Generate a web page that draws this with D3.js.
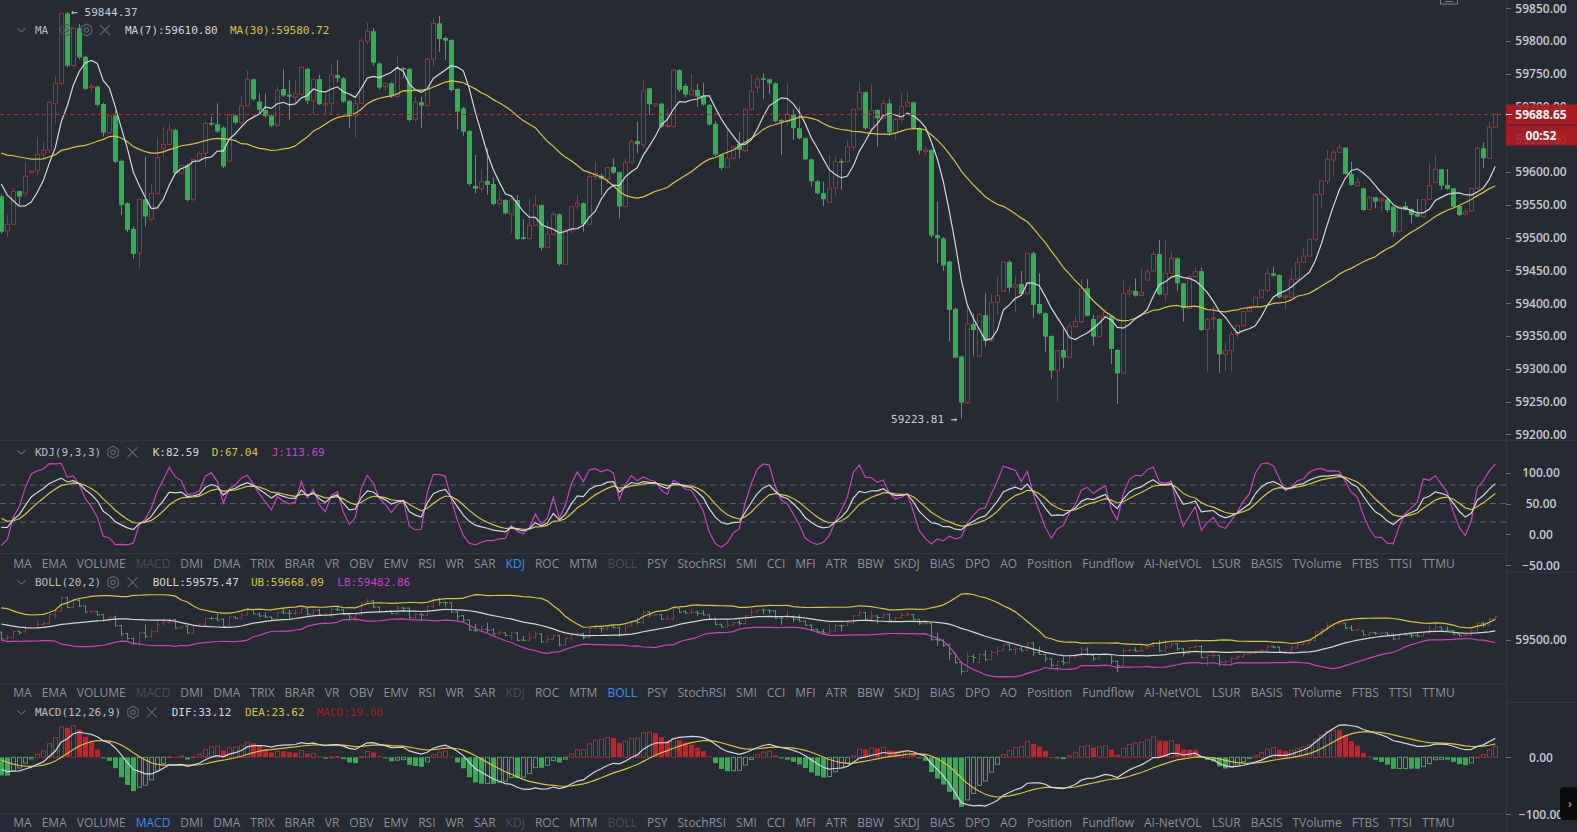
<!DOCTYPE html>
<html><head><meta charset="utf-8">
<script src="https://cdn.jsdelivr.net/npm/d3@7"></script>
<style>
html,body{margin:0;padding:0;background:#252a33;overflow:hidden}
svg{display:block}
</style></head><body>
<svg id="c" width="1577" height="832"></svg>
<script>
// ---------- DATA ----------
// closes before the first visible candle (off-screen, only used to warm up the indicators)
const prevCloses = [59610,59600,59620,59640,59650,59630,59620,59610,59640,59650,59700,59740,59720,59690,59650,59600,59570,59560,59590,59640,59680,59700,59686,59640,59630,59621.5,59590,59560,59523.5];

const opens = [59563,59510.3,59520.5,59571.3,59567.8,59599.3,59601.8,59627.3,59633.4,59705,
59735.6,59842,59762.6,59819.5,59776,59729,59730.5,59704,59660.3,59686.3,
59617,59552.5,59513.3,59476.2,59558.6,59528,59567.8,59636.4,59642.5,59664.4,
59598.3,59611,59558.6,59619.6,59628.8,59675,59673,59668,59617,59686.3,
59675.6,59701,59741.7,59707.6,59695,59686.3,59671,59726.9,59718.3,59714.2,
59718.8,59757.5,59709,59742.2,59702.5,59705,59748.3,59743.2,59708.6,59685.8,
59705,59800,59815,59766,59730.5,59735.6,59715.2,59758.9,59757.4,59680.6,
59706.6,59701.5,59772.2,59827.1,59804.7,59801.7,59726.9,59697.4,59662.8,59578.9,
59574.8,59586.5,59582,59552,59557.5,59535.7,59557.5,59500.6,59498.6,59518.9,
59549.9,59485.3,59505.2,59535.7,59459.4,59511.8,59548.4,59552.5,59520.4,59593.2,
59594.7,59589.6,59607.9,59599.8,59547.4,59615,59647.6,59642.5,59728,59702,
59704.5,59669.4,59669.4,59755.9,59731.5,59718.3,59725.4,59716.3,59702.5,59673.5,
59626.8,59607.4,59621.1,59643,59632.9,59695.9,59729.5,59743.2,59741.7,59735.6,
59679.6,59677.1,59688.8,59667,59651.7,59619.6,59586,59567.8,59554,59575.4,
59617,59616,59638,59695.9,59721.8,59667,59694.9,59682.2,59705,59660.3,
59680.6,59701,59706.6,59667,59631.3,59633.9,59504.2,59499,59463.5,59391.3,
59318.6,59248.4,59368.3,59319.5,59382,59342.9,59401.4,59418.7,59462.9,59424.3,
59429.3,59415.1,59476.1,59398.8,59384.6,59350,59297.1,59328.6,59317.4,59364.2,
59371.9,59422.7,59375.9,59349,59380.5,59381,59328.6,59293,59415.1,59418.7,
59412,59435.4,59449.2,59475.1,59413.6,59445.6,59468.5,59430.3,59392.2,59440.5,
59449.2,59360.2,59376,59376,59322,59327.6,59352.5,59365.8,59387.1,59394.8,
59409,59419.2,59445.6,59443.1,59409,59409,59436.5,59462.4,59472,59497.5,
59566.2,59586.5,59618.6,59630.3,59637.4,59597.2,59579.4,59575.3,59543.3,59561.6,
59556,59558.5,59547.4,59509.2,59548.4,59543.8,59536.2,59532.1,59558.5,59584.5,
59604.3,59580.4,59575.3,59548.4,59535.7,59540.7,59575.3,59636.4,59621.1,59668.4];

const highs = [59566,59534.7,59575.4,59572,59616,59603,59653.2,59646.6,59708.6,59745.8,
59843,59844.37,59822,59826,59778,59735,59732,59706,59687,59694,
59619,59554,59517,59559,59623.7,59582,59652.7,59669,59674.6,59666,
59612,59613,59620.5,59632,59677,59685,59705,59670,59690,59688,
59715,59755,59743,59720,59720,59688,59730.5,59757,59740.7,59740.7,
59761,59759,59742.5,59748.3,59720,59766,59771,59745,59710,59710,
59805,59828,59820,59768,59737,59737,59776.2,59760,59759,59715,
59715,59775,59833.7,59838.3,59806.8,59803,59728,59699,59664,59626.2,
59604.8,59636.4,59592,59571.8,59559,59561.6,59565.2,59528.5,59559,59565.2,
59551,59525.5,59539.7,59537,59513,59548,59565.2,59554,59598.2,59616,
59598,59608,59621.1,59601,59621.1,59650,59677,59740.6,59729,59705,
59706,59696,59757,59757,59735,59749.8,59735,59736.6,59704,59678,
59628,59667,59640,59661.8,59697,59748.8,59747.8,59750.9,59743,59737,
59681,59735.6,59696,59700,59653,59621,59588,59585.6,59625.2,59623.7,
59621,59649.1,59697,59737,59723,59734.6,59696,59711.2,59711.2,59682,
59720.3,59722.8,59708,59668,59640,59635,59555,59501,59465,59393,
59320,59395,59384.6,59385,59415.1,59414.1,59440.5,59464,59466,59440.5,
59449.2,59477,59478.7,59445.6,59386,59351,59328.6,59364.2,59369.3,59382,
59437,59437,59382,59381,59391.2,59382,59330,59434.4,59425.3,59438,
59453.2,59453.2,59478.7,59496.5,59496.5,59478.7,59470,59431,59443,59455.8,
59454.3,59377,59395.8,59377,59339.8,59357.6,59366,59388,59396,59410,
59421,59453.2,59455.8,59444,59413.6,59452.2,59471,59484.8,59498,59567,
59587,59633.8,59633.8,59642.5,59638,59616,59591.6,59576,59562,59562,
59561.1,59560,59548,59548,59555,59545,59559.1,59559,59614.5,59626.2,
59605,59604.8,59576,59549,59544.8,59576,59638.9,59645.5,59677.1,59688.65];

const lows = [59506,59500.6,59519,59549,59562.7,59598,59595.7,59621.2,59628.8,59674.6,
59732,59760,59760,59772,59725,59722,59700,59654,59658,59614,
59534.7,59509,59467.6,59453.3,59517,59526,59566,59622,59640,59596,
59597,59555,59555,59615,59608,59670,59660,59606,59615,59673,
59672,59700,59709,59687,59683,59669,59669,59715,59679.7,59705,
59717,59703.6,59687,59702,59687,59687,59736.6,59706,59667,59653,
59703,59795,59762,59726,59725,59713,59713,59743.2,59677,59677,
59668,59700,59761,59782.9,59771,59723,59665.4,59655.2,59579,59567.7,
59570.3,59565.2,59549,59548.4,59535,59506.7,59496,59497,59497,59517,
59480.2,59483,59503,59457,59459,59506.7,59543.3,59509.2,59519,59588,
59565.2,59581.4,59597,59529.6,59546,59614,59628.8,59637.4,59687.2,59699,
59667,59668,59668,59722,59714.2,59717,59700,59701,59671,59625,
59603.4,59606,59618.6,59621.1,59631,59694,59720.3,59711.2,59719.3,59676,
59626,59671,59649.1,59650,59618,59578,59566,59548.4,59553,59565.2,
59572.8,59614,59632.9,59694,59665,59665,59638.9,59680,59655.2,59649.1,
59675.6,59699,59665,59627,59626,59500,59461,59449.8,59341.4,59316,
59223.81,59246,59318.5,59317,59333.7,59341,59382,59417,59416.1,59385.6,
59413,59413,59377,59383,59326.1,59284.4,59249.8,59300.7,59316,59363,
59369.3,59380,59335.2,59348,59379,59306.8,59246.2,59292,59410,59410,
59411,59434,59448,59412,59402.4,59444,59419.2,59371.9,59391,59439,
59358,59294.6,59360,59294,59297.1,59295.6,59346.4,59364,59386,59394,
59408,59416.1,59441,59408,59389.7,59408,59435,59461,59471,59494,
59544.8,59581.4,59595.7,59629,59596,59579,59578,59541,59542,59544.8,
59539.7,59538.7,59501.6,59508,59541,59521.9,59531,59531,59557,59583,
59572.8,59573,59546,59533,59534,59539,59574,59605.9,59620,59667];

const closes = [59509,59520.5,59570.3,59562.7,59593.7,59601.9,59627.3,59633.4,59706.6,59735.6,
59842.4,59762.6,59819.5,59775,59727,59731,59702.5,59660.3,59685.8,59616,
59550,59511.8,59475.2,59558.6,59532.2,59567.8,59622.2,59642.5,59664.4,59598.3,
59610,59557.6,59619.6,59628.8,59674.6,59673,59662,59609,59687.3,59675.6,
59701,59741.7,59711.2,59695,59685.8,59671,59724.4,59716.8,59715.3,59720.3,
59760,59709,59741.7,59703.6,59705,59748.3,59743.2,59707.6,59685.8,59705,
59800,59815,59767,59729,59735.6,59715.3,59757.4,59756.4,59679.6,59706.6,
59701.5,59772.2,59827.1,59803.2,59800.6,59725.4,59692.3,59661.8,59582,59574.8,
59585.5,59580.4,59551.4,59557.5,59537.2,59557.5,59498,59498,59518.9,59549.9,
59484.8,59505.2,59535.7,59459.4,59511.8,59547.4,59552.5,59520.4,59593.2,59598.2,
59590.1,59606.9,59599.3,59547.4,59615,59646.5,59642.5,59723.9,59703.5,59704.5,
59669.4,59671.4,59755.9,59725.4,59718.3,59725.4,59715.3,59703,59672.5,59626.8,
59606.4,59621.1,59638.9,59633.9,59695.9,59723.4,59741.7,59741.7,59735.6,59678.1,
59677.1,59688.3,59667,59651.7,59619.6,59586,59567.8,59558.6,59575.4,59616,
59615,59639,59695.9,59721.8,59667,59693.9,59682.2,59705,59660.3,59680.6,
59700,59706.6,59667,59632.9,59633.9,59503.2,59499,59457.4,59389.8,59317,
59248.4,59368.3,59359.1,59382,59342.4,59401.4,59411.5,59462.4,59423.7,59428.8,
59414.1,59476.1,59397.3,59384.6,59349,59297.1,59327.6,59317,59364.2,59371.9,
59422.7,59381,59349,59380.5,59386.1,59330.2,59293,59415.1,59418.7,59411.5,
59416.6,59448.1,59474.6,59413.6,59445.6,59468.5,59430.3,59392.2,59440.5,59448.1,
59359.1,59375.4,59377.4,59322,59327.6,59352.5,59365.8,59387.1,59394.8,59409,
59420.2,59445.6,59442,59409,59411,59436.5,59462.4,59472,59497.5,59566.2,
59586.5,59619.6,59630.3,59637.4,59597.2,59580.4,59584.5,59542.2,59561.6,59555,
59559.1,59542.2,59508.2,59547.4,59542.2,59534.6,59532.1,59558.5,59579.4,59604.3,
59579.4,59574.3,59547.4,59534.6,59539.7,59575.3,59636.4,59621.1,59668.4,59688.65];

const priceTicks = [59850,59800,59750,59700,59650,59600,59550,59500,59450,59400,59350,59300,59250,59200];
const kdjTicks = [100,50,0,-50];
const kdjLevels = [80,50,20];
const bollTicks = [59500];
const macdTicks = [0,-100];
const extremes = [{label:"\u2190 59844.37", value:59844.37, index:11, side:"right"}, {label:"59223.81 \u2192", value:59223.81, index:160, side:"left"}];
const lastPriceLabel = "59688.65";
const countdownLabel = "00:52";
const maLegend = [{t:"MA(7):59610.80", c:"#d4d6da"}, {t:"MA(30):59580.72", c:"#d6c53d"}];
const kdjLegend = [{t:"K:82.59", c:"#d4d6da"}, {t:"D:67.04", c:"#d6c53d"}, {t:"J:113.69", c:"#d040c4"}];
const bollLegend = [{t:"BOLL:59575.47", c:"#d4d6da"}, {t:"UB:59668.09", c:"#d6c53d"}, {t:"LB:59482.86", c:"#d040c4"}];
const macdLegend = [{t:"DIF:33.12", c:"#d4d6da"}, {t:"DEA:23.62", c:"#d6c53d"}, {t:"MACD:19.00", c:"#a51b1e"}];
const indicatorMenu = ["MA","EMA","VOLUME","MACD","DMI","DMA","TRIX","BRAR","VR","OBV","EMV","RSI","WR","SAR","KDJ","ROC","MTM","BOLL","PSY","StochRSI","SMI","CCI","MFI","ATR","BBW","SKDJ","BIAS","DPO","AO","Position","Fundflow","AI-NetVOL","LSUR","BASIS","TVolume","FTBS","TTSI","TTMU"];

// ---------- STYLE ----------
const RED = "#d01d24", GREEN = "#2db24f", WHITE = "#d4d6da", YELLOW = "#d6c53d", MAGENTA = "#d040c4";
const PLOT_W = 1506;
const svg = d3.select("#c");
svg.append("rect").attr("width",1577).attr("height",832).attr("fill","#252a33");

// ---------- INDICATORS ----------
const N = closes.length, P = prevCloses.length;
const cAll = prevCloses.concat(closes), hAll = prevCloses.concat(highs), lAll = prevCloses.concat(lows);
function smaAt(n,k){ const w = cAll.slice(Math.max(0,k-n+1),k+1); return d3.mean(w); }
const ma7 = d3.range(N).map(i=>smaAt(7,i+P));
const ma30 = d3.range(N).map(i=>smaAt(30,i+P));
const boll = d3.range(N).map(i=>{ const k=i+P; const w=cAll.slice(Math.max(0,k-19),k+1); const m=d3.mean(w); const sd=Math.sqrt(d3.mean(w,v=>(v-m)*(v-m))); return {mid:m, up:m+2*sd, lo:m-2*sd}; });
const macd = []; { let e12=cAll[0], e26=cAll[0], dea=0;
  cAll.forEach((c,k)=>{ if(k>0){ e12=(2*c+11*e12)/13; e26=(2*c+25*e26)/27; } const dif=e12-e26; dea=(2*dif+8*dea)/10; if(k>=P) macd.push({dif,dea,hist:2*(dif-dea)}); }); }
const kdj = []; { let K=50, D=50;
  cAll.forEach((c,k)=>{ const s=Math.max(0,k-8); const hh=d3.max(hAll.slice(s,k+1)), ll=d3.min(lAll.slice(s,k+1)); const rsv = hh===ll?50:(c-ll)/(hh-ll)*100; K=(2*K+rsv)/3; D=(2*D+K)/3; if(k>=P) kdj.push({k:K,d:D,j:3*K-2*D}); }); }

// ---------- SCALES ----------
const x = d3.scaleLinear().domain([0,N-1]).range([1.3,1495.3]);
const px = i => Math.round(x(i));
const yMain = d3.scaleLinear().domain([59200,59850]).range([434.3,8.3]);
const yKdj = d3.scaleLinear().domain([-50,100]).range([565.3,472.7]);
const yBoll = d3.scaleLinear().domain([59500,59844.37]).range([640.1,597.4]);
const yMacd = d3.scaleLinear().domain([-100,0]).range([814.3,757.3]);

const defs = svg.append("defs");
function clip(id,y0,y1){ defs.append("clipPath").attr("id",id).append("rect").attr("x",0).attr("y",y0).attr("width",PLOT_W).attr("height",y1-y0); return "url(#"+id+")"; }

// separators
const sep = svg.append("g").attr("stroke","#30353f").attr("stroke-width",1);
sep.append("line").attr("x1",PLOT_W+0.5).attr("x2",PLOT_W+0.5).attr("y1",0).attr("y2",832);
[440.5].forEach(y=>sep.append("line").attr("x1",0).attr("x2",1577).attr("y1",y).attr("y2",y));
[553.5,683.5,813.5].forEach(y=>sep.append("line").attr("x1",0).attr("x2",PLOT_W).attr("y1",y).attr("y2",y));
[572.5,702.5].forEach(y=>sep.append("line").attr("x1",PLOT_W).attr("x2",1577).attr("y1",y).attr("y2",y));

// ---------- MAIN PANEL ----------
const gMain = svg.append("g").attr("clip-path",clip("cm",0,440));
const idx = d3.range(N);
// candles
const cg = gMain.append("g");
idx.forEach(i=>{
  const up = closes[i] >= opens[i];
  const col = up ? RED : GREEN;
  const xc = px(i);
  const top = yMain(Math.max(opens[i],closes[i])), bot = yMain(Math.min(opens[i],closes[i]));
  const yh = yMain(highs[i]), yl = yMain(lows[i]);
  if (up) {
    const h = Math.max(1, bot-top);
    cg.append("line").attr("x1",xc+0.5).attr("x2",xc+0.5).attr("y1",yh).attr("y2",top).attr("stroke",col);
    cg.append("line").attr("x1",xc+0.5).attr("x2",xc+0.5).attr("y1",top+h).attr("y2",yl).attr("stroke",col);
    cg.append("rect").attr("x",xc-1.5).attr("y",top).attr("width",4).attr("height",h).attr("fill","none").attr("stroke",col).attr("stroke-width",1);
  } else {
    cg.append("line").attr("x1",xc+0.5).attr("x2",xc+0.5).attr("y1",yh).attr("y2",yl).attr("stroke",col);
    cg.append("rect").attr("x",xc-2).attr("y",top).attr("width",5).attr("height",Math.max(1.5,bot-top)).attr("fill",col);
  }
});
const lineMain = arr => d3.line().x((d,i)=>x(i)).y(d=>yMain(d))(arr);
gMain.append("path").attr("d",lineMain(ma30)).attr("fill","none").attr("stroke",YELLOW).attr("stroke-width",1.2);
gMain.append("path").attr("d",lineMain(ma7)).attr("fill","none").attr("stroke",WHITE).attr("stroke-width",1.2);

// last price dashed line
const yLast = yMain(closes[N-1]);
svg.append("line").attr("x1",0).attr("x2",PLOT_W).attr("y1",Math.round(yLast)+0.5).attr("y2",Math.round(yLast)+0.5)
  .attr("stroke","#c3262c").attr("stroke-dasharray","4,3").attr("stroke-width",1);

// extremes
const mono = "'DejaVu Sans Mono', monospace";
extremes.forEach(e=>{
  const t = svg.append("text").attr("font-family",mono).attr("font-size",11).attr("fill","#c8ccd2").text(e.label);
  if (e.side==="right") t.attr("x",x(e.index)+4).attr("y",yMain(e.value)+4);
  else t.attr("x",x(e.index)-4).attr("y",yMain(e.value)+4).attr("text-anchor","end");
});

// ---------- KDJ PANEL ----------
const gK = svg.append("g").attr("clip-path",clip("ck",441,553));
kdjLevels.forEach(v=>gK.append("line").attr("x1",0).attr("x2",PLOT_W).attr("y1",yKdj(v)).attr("y2",yKdj(v)).attr("stroke","#5d626b").attr("stroke-dasharray","6,4"));
const lineK = key => d3.line().x((d,i)=>x(i)).y(d=>yKdj(d[key]))(kdj);
gK.append("path").attr("d",lineK("j")).attr("fill","none").attr("stroke",MAGENTA).attr("stroke-width",1.2);
gK.append("path").attr("d",lineK("d")).attr("fill","none").attr("stroke",YELLOW).attr("stroke-width",1.2);
gK.append("path").attr("d",lineK("k")).attr("fill","none").attr("stroke",WHITE).attr("stroke-width",1.2);

// ---------- BOLL PANEL ----------
const gB = svg.append("g").attr("clip-path",clip("cb",573,683));
idx.forEach(i=>{
  const up = closes[i] >= opens[i]; const col = up?RED:GREEN; const xc = px(i)+0.5;
  gB.append("line").attr("x1",xc).attr("x2",xc).attr("y1",yBoll(highs[i])-0.5).attr("y2",yBoll(lows[i])+0.5).attr("stroke",col);
  gB.append("line").attr("x1",xc-2.5).attr("x2",xc).attr("y1",yBoll(opens[i])).attr("y2",yBoll(opens[i])).attr("stroke",col);
  gB.append("line").attr("x1",xc).attr("x2",xc+2.5).attr("y1",yBoll(closes[i])).attr("y2",yBoll(closes[i])).attr("stroke",col);
});
const lineB = key => d3.line().x((d,i)=>x(i)).y(d=>yBoll(d[key]))(boll);
gB.append("path").attr("d",lineB("up")).attr("fill","none").attr("stroke",YELLOW).attr("stroke-width",1.2);
gB.append("path").attr("d",lineB("lo")).attr("fill","none").attr("stroke",MAGENTA).attr("stroke-width",1.2);
gB.append("path").attr("d",lineB("mid")).attr("fill","none").attr("stroke",WHITE).attr("stroke-width",1.2);

// ---------- MACD PANEL ----------
const gM = svg.append("g").attr("clip-path",clip("cmd",703,813));
const y0m = yMacd(0);
macd.forEach((d,i)=>{
  const col = d.hist>=0?RED:GREEN;
  const rising = i>0 ? d.hist > macd[i-1].hist : false;
  const yv = yMacd(d.hist);
  const top = Math.min(yv,y0m), h = Math.max(1, Math.abs(yv-y0m));
  const xc = px(i);
  if (rising) gM.append("rect").attr("x",xc-1.5).attr("y",top).attr("width",4).attr("height",h).attr("fill","none").attr("stroke",col);
  else gM.append("rect").attr("x",xc-2).attr("y",top).attr("width",5).attr("height",h).attr("fill",col);
});
const lineM = key => d3.line().x((d,i)=>x(i)).y(d=>yMacd(d[key]))(macd);
gM.append("path").attr("d",lineM("dea")).attr("fill","none").attr("stroke",YELLOW).attr("stroke-width",1.2);
gM.append("path").attr("d",lineM("dif")).attr("fill","none").attr("stroke",WHITE).attr("stroke-width",1.2);

// ---------- AXES ----------
const sans = "'Open Sans', 'Noto Sans', sans-serif";
function axisLabels(ticks, scale, fmt){
  const g = svg.append("g");
  ticks.forEach(v=>{
    const yy = scale(v);
    g.append("line").attr("x1",PLOT_W).attr("x2",PLOT_W+5).attr("y1",Math.round(yy)+0.5).attr("y2",Math.round(yy)+0.5).attr("stroke","#6a6f78");
    g.append("text").attr("x",1541).attr("y",yy+4.3).attr("text-anchor","middle").attr("font-family",sans).attr("font-size",12).attr("font-weight",600).attr("fill","#c6cad0").text(fmt(v));
  });
}
const f2 = d3.format(".2f");
axisLabels(priceTicks, yMain, f2);
axisLabels(kdjTicks, yKdj, f2);
axisLabels(bollTicks, yBoll, f2);
axisLabels(macdTicks, yMacd, f2);

// price tag
svg.append("rect").attr("x",PLOT_W).attr("y",yLast-9.5).attr("width",1577-PLOT_W).attr("height",20).attr("fill","#b41b20").attr("opacity",0.93);
svg.append("rect").attr("x",PLOT_W).attr("y",yLast+11.5).attr("width",1577-PLOT_W).attr("height",20).attr("fill","#b41b20").attr("opacity",0.9);
svg.append("line").attr("x1",PLOT_W).attr("x2",PLOT_W+6).attr("y1",Math.round(yLast)+0.5).attr("y2",Math.round(yLast)+0.5).attr("stroke","#ffffff");
svg.append("text").attr("x",1541).attr("y",yLast+4.5).attr("text-anchor","middle").attr("font-family",sans).attr("font-size",12).attr("font-weight",700).attr("fill","#ffffff").text(lastPriceLabel);
svg.append("text").attr("x",1541).attr("y",yLast+25.8).attr("text-anchor","middle").attr("font-family",sans).attr("font-size",12).attr("font-weight",700).attr("fill","#ffffff").text(countdownLabel);

// ---------- LEGENDS ----------
function chevron(cy){ svg.append("path").attr("d",`M17.5,${cy-2} L21.5,${cy+2} L25.5,${cy-2}`).attr("fill","none").attr("stroke","#7d828b").attr("stroke-width",1); }
function gear(cx,cy){ const r=6; const pts=d3.range(6).map(k=>{const a=Math.PI/3*k+Math.PI/6; return [cx+r*Math.cos(a), cy+r*Math.sin(a)];});
  svg.append("polygon").attr("points",pts.map(p=>p.join(",")).join(" ")).attr("fill","none").attr("stroke","#5f646d").attr("stroke-width",1.2);
  svg.append("circle").attr("cx",cx).attr("cy",cy).attr("r",2.2).attr("fill","none").attr("stroke","#5f646d").attr("stroke-width",1.2); }
function cross(cx,cy){ svg.append("path").attr("d",`M${cx-5},${cy-5} L${cx+5},${cy+5} M${cx+5},${cy-5} L${cx-5},${cy+5}`).attr("stroke","#5f646d").attr("stroke-width",1.2); }
function eye(cx,cy){ svg.append("circle").attr("cx",cx).attr("cy",cy).attr("r",5.5).attr("fill","none").attr("stroke","#4d525b").attr("stroke-width",1.2);
  svg.append("circle").attr("cx",cx).attr("cy",cy).attr("r",2).attr("fill","none").attr("stroke","#4d525b").attr("stroke-width",1.2); }
function legend(cy, title, items, xs, gx, xx, withEye){
  chevron(cy);
  svg.append("text").attr("x",35).attr("y",cy+4).attr("font-family",mono).attr("font-size",11).attr("fill","#b9bdc4").text(title);
  if (withEye) eye(66,cy);
  gear(gx,cy); cross(xx,cy);
  items.forEach((it,k)=>svg.append("text").attr("x",xs[k]).attr("y",cy+4).attr("font-family",mono).attr("font-size",11).attr("fill",it.c).text(it.t));
}
legend(30, "MA", maLegend, [125,230], 86.5, 105, true);
legend(452.3, "KDJ(9,3,3)", kdjLegend, [152.7,211.7,271.7], 113, 132.5, false);
legend(582.3, "BOLL(20,2)", bollLegend, [152.7,251,337.3], 113, 132.5, false);
legend(712.3, "MACD(12,26,9)", macdLegend, [171.7,245,316.7], 133, 151.7, false);

// ---------- INDICATOR MENUS ----------
const menuRows = [{y:567.6, active:"KDJ", off:["MACD","BOLL"]}, {y:697, active:"BOLL", off:["MACD","KDJ"]}, {y:827, active:"MACD", off:["KDJ","BOLL"]}];
menuRows.forEach(row=>{
  const g = svg.append("g");
  const texts = indicatorMenu.map(name => g.append("text").attr("y",row.y).attr("font-family",sans).attr("font-size",12)
    .attr("fill", name===row.active ? "#3f8ee6" : (row.off.includes(name) ? "#4a4f58" : "#8c9199")).text(name));
  const widths = texts.map(t=>t.node().getComputedTextLength());
  const startX = 13.3, lastX = 1422;
  const gap = (lastX - startX - d3.sum(widths.slice(0,-1))) / (texts.length-1);
  let cx = startX;
  texts.forEach((t,k)=>{ t.attr("x",cx); cx += widths[k] + gap; });
});

// top-right small icon and right tab
svg.append("rect").attr("x",1440.5).attr("y",-8).attr("width",17).attr("height",12).attr("fill","none").attr("stroke","#7d828b");
svg.append("line").attr("x1",1445).attr("x2",1453).attr("y1",1.5).attr("y2",1.5).attr("stroke","#7d828b");
svg.append("path").attr("d","M1577,787 L1564,787 Q1560,787 1560,791 L1560,816 Q1560,820 1564,820 L1577,820 Z").attr("fill","#0b0c0e");
svg.append("text").attr("x",1570).attr("y",808).attr("text-anchor","middle").attr("font-family",sans).attr("font-size",12).attr("fill","#c8ccd2").text("\u203A");
</script>
</body></html>
